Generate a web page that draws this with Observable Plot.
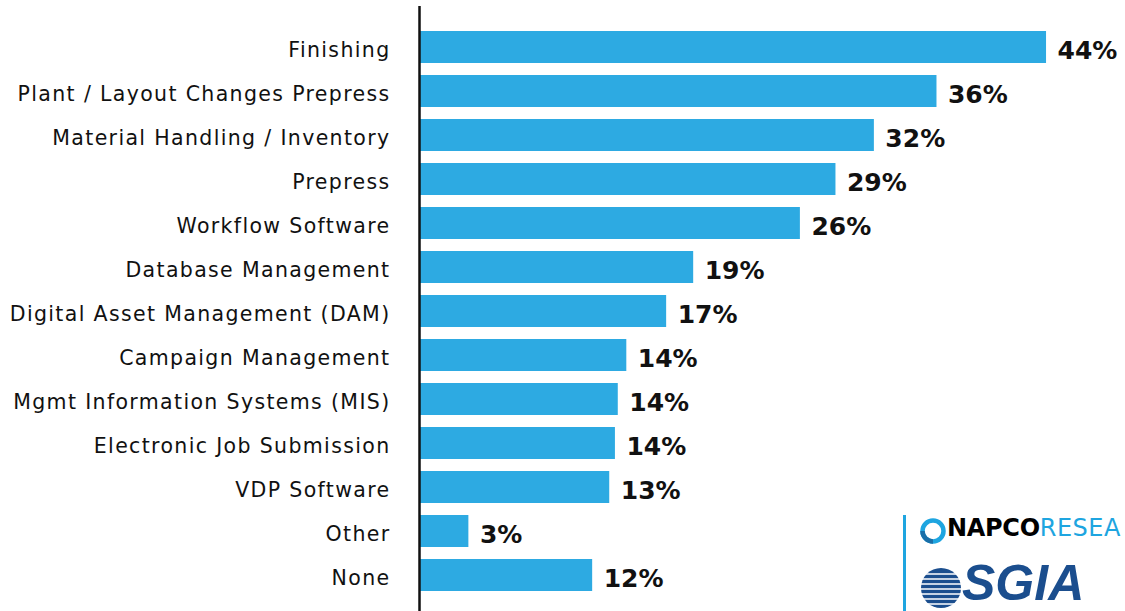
<!DOCTYPE html>
<html>
<head>
<meta charset="utf-8">
<script src="https://cdn.jsdelivr.net/npm/d3@7"></script>
<script src="https://cdn.jsdelivr.net/npm/@observablehq/plot@0.6"></script>
<style>
  html, body { margin: 0; padding: 0; background: #fff; overflow: hidden; }
  #wrap { position: relative; width: 1125px; height: 611px; overflow: hidden; }
  #chart svg { display: block; }
  #chart g[aria-label="y-axis tick label"] text { letter-spacing: 1.35px; }
  .logo { position: absolute; white-space: nowrap; }
</style>
</head>
<body>
<div id="wrap">
  <div id="chart"></div>
  <div class="logo" style="left:903px; top:515px; width:3px; height:96px; background:#1EA5E0;"></div>
  <svg class="logo" style="left:919px; top:517px;" width="28" height="28" viewBox="0 0 28 28">
    <circle cx="14" cy="14" r="10.5" fill="none" stroke="#1EA5E0" stroke-width="4.5"/>
    <path d="M 14 24.5 A 10.5 10.5 0 0 1 3.5 14" fill="none" stroke="#1a6fa8" stroke-width="4.5"/>
  </svg>
  <div class="logo" style="left:947px; top:517px; font:bold 24px/23px 'DejaVu Sans', sans-serif; letter-spacing:-0.3px;">
    <span style="color:#000;">NAPCO</span><span style="color:#1EA5E0; font-weight:normal; letter-spacing:0.5px;">RESEA</span>
  </div>
  <svg class="logo" style="left:919px; top:565px;" width="44" height="45" viewBox="0 0 44 45">
    <circle cx="22" cy="23" r="20" fill="#1B4E8E"/>
    <g stroke="#fff" stroke-width="1.6">
      <line x1="0" y1="9" x2="44" y2="9"/>
      <line x1="0" y1="14" x2="44" y2="14"/>
      <line x1="0" y1="19" x2="44" y2="19"/>
      <line x1="0" y1="24" x2="44" y2="24"/>
      <line x1="0" y1="29" x2="44" y2="29"/>
      <line x1="0" y1="34" x2="44" y2="34"/>
      <line x1="0" y1="39" x2="44" y2="39"/>
    </g>
  </svg>
  <div class="logo" style="left:962px; top:555px; font:italic bold 50px/1.12 'Liberation Sans', Arial, sans-serif; color:#1B4E8E; letter-spacing:0px;">SGIA</div>
</div>
<script>
const categories = [
  "Finishing",
  "Plant / Layout Changes Prepress",
  "Material Handling / Inventory",
  "Prepress",
  "Workflow Software",
  "Database Management",
  "Digital Asset Management (DAM)",
  "Campaign Management",
  "Mgmt Information Systems (MIS)",
  "Electronic Job Submission",
  "VDP Software",
  "Other",
  "None"
];
// bar lengths (percent)
const values = [44.0, 36.3, 31.9, 29.2, 26.7, 19.2, 17.3, 14.5, 13.9, 13.7, 13.3, 3.4, 12.1];
// printed labels (percent)
const labels = [44, 36, 32, 29, 26, 19, 17, 14, 14, 14, 13, 3, 12];

const data = categories.map((c, i) => ({category: c, value: values[i], label: labels[i]}));

const chart = Plot.plot({
  width: 1125,
  height: 611,
  marginLeft: 420,
  marginRight: 0,
  marginTop: 6,
  marginBottom: 0,
  style: {fontFamily: "'DejaVu Sans', sans-serif", background: "#fff"},
  x: {domain: [0, 49.55], axis: null},
  y: {domain: categories, paddingInner: 0.2727, paddingOuter: 0.511, align: 0.556, label: null},
  marks: [
    Plot.axisY({
      tickSize: 0,
      tickPadding: 30,
      fontSize: 20.5,
      dy: 3,
      fill: "#111",
      label: null
    }),
    Plot.barX(data, {x: "value", y: "category", fill: "#2DAAE2"}),
    Plot.ruleX([0], {stroke: "#111", strokeWidth: 2.5, dx: -1}),
    Plot.text(data, {
      x: "value",
      y: "category",
      text: d => `${d.label}%`,
      textAnchor: "start",
      dx: 11,
      dy: 3,
      fontSize: 25,
      fontWeight: "bold",
      fill: "#111"
    })
  ]
});
document.getElementById("chart").appendChild(chart);
</script>
</body>
</html>
